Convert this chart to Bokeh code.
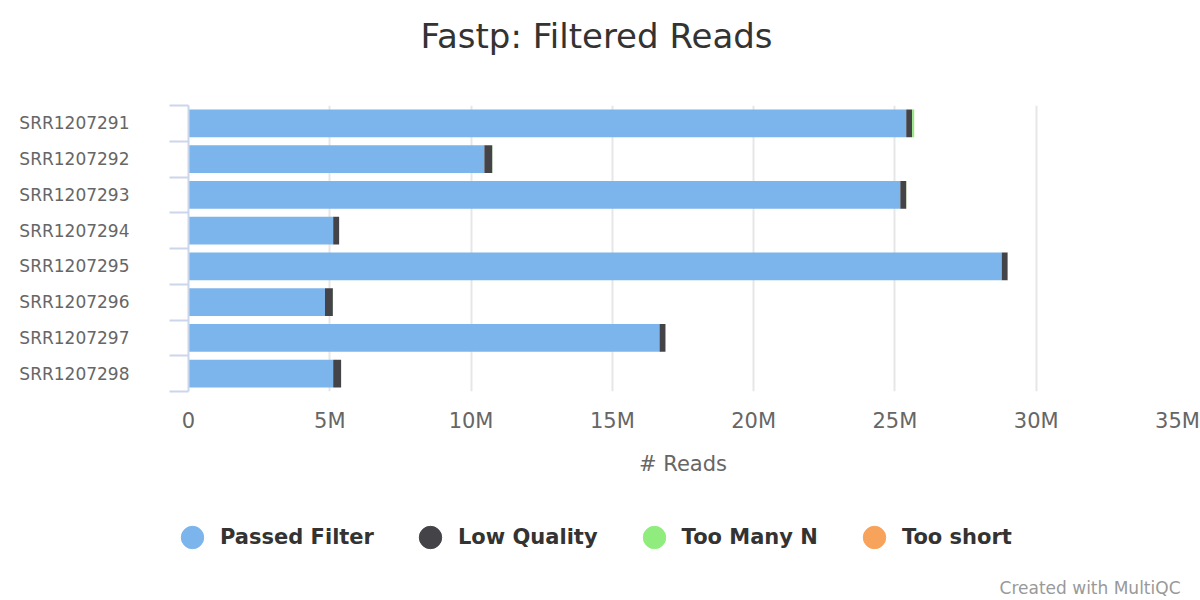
from bokeh.plotting import figure
from bokeh.layouts import column
from bokeh.models import (ColumnDataSource, Range1d, FixedTicker, Legend, LegendItem,
                          Title, Label)
from bokeh.embed import file_html
from bokeh.resources import INLINE

# ---- data ----
samples = ["SRR1207291", "SRR1207292", "SRR1207293", "SRR1207294",
           "SRR1207295", "SRR1207296", "SRR1207297", "SRR1207298"]
passed_filter = [25.40e6, 10.47e6, 25.19e6, 5.12e6, 28.78e6, 4.83e6, 16.67e6, 5.12e6]
low_quality = [0.21e6, 0.28e6, 0.21e6, 0.21e6, 0.21e6, 0.28e6, 0.21e6, 0.28e6]
too_many_n = [0.07e6, 0.005e6, 0.005e6, 0.003e6, 0.006e6, 0.003e6, 0.004e6, 0.003e6]
too_short = [0.002e6, 0.001e6, 0.002e6, 0.001e6, 0.002e6, 0.001e6, 0.001e6, 0.001e6]
series_names = ["Passed Filter", "Low Quality", "Too Many N", "Too short"]
series_keys = ["passed", "low", "many_n", "short"]
series_colors = ["#7cb5ec", "#434348", "#90ed7d", "#f7a35c"]
x_ticks = [0, 5e6, 10e6, 15e6, 20e6, 25e6, 30e6, 35e6]
x_tick_labels = ["0", "5M", "10M", "15M", "20M", "25M", "30M", "35M"]

FONT = "DejaVu Sans"
n = len(samples)
ypos = list(range(n))

source = ColumnDataSource(dict(y=ypos, sample=samples, passed=passed_filter,
                               low=low_quality, many_n=too_many_n, short=too_short))

MAIN_H = 485
p = figure(width=1200, height=MAIN_H, x_range=Range1d(0, x_ticks[-1]),
           y_range=Range1d(n - 0.5, -0.5),
           output_backend="svg", toolbar_location=None,
           min_border_left=188, min_border_right=23,
           min_border_top=105, min_border_bottom=MAIN_H - 391)
p.frame_align = False
p.outline_line_color = None
p.background_fill_color = "white"
p.border_fill_color = "white"

p.hbar_stack(series_keys, y="y", height=0.78, color=series_colors,
             line_width=0, source=source)

# x axis
xa = p.xaxis[0]
xa.ticker = FixedTicker(ticks=x_ticks)
xa.major_label_overrides = {t: l for t, l in zip(x_ticks, x_tick_labels)}
xa.axis_line_color = None
xa.major_tick_line_color = None
xa.minor_tick_line_color = None
xa.major_tick_out = 0
xa.major_label_standoff = 17
xa.major_label_text_font = FONT
xa.major_label_text_font_size = "21px"
xa.major_label_text_color = "#666666"
xa.axis_label = "# Reads"
xa.axis_label_text_font = FONT
xa.axis_label_text_font_size = "21px"
xa.axis_label_text_font_style = "normal"
xa.axis_label_text_color = "#666666"
xa.axis_label_standoff = 16

# y axis
ya = p.yaxis[0]
ya.ticker = FixedTicker(ticks=ypos, minor_ticks=[i - 0.5 for i in range(n + 1)])
ya.major_label_overrides = {i: s for i, s in zip(ypos, samples)}
ya.axis_line_color = "#ccd6eb"
ya.axis_line_width = 2
ya.major_tick_line_color = None
ya.major_tick_out = 0
ya.major_tick_in = 0
ya.minor_tick_line_color = "#ccd6eb"
ya.minor_tick_line_width = 2
ya.minor_tick_out = 19
ya.minor_tick_in = 0
ya.major_label_standoff = 40
ya.major_label_text_font = FONT
ya.major_label_text_font_size = "17px"
ya.major_label_text_color = "#666666"

p.xgrid.ticker = FixedTicker(ticks=x_ticks)
p.xgrid.grid_line_color = "#e6e6e6"
p.xgrid.grid_line_width = 2
p.ygrid.grid_line_color = None

# title (with a spacer between it and the frame)
p.add_layout(Title(text=" ", text_font_size="1px", standoff=47), "above")
p.add_layout(Title(text="Fastp: Filtered Reads", align="left", offset=232,
                   vertical_align="bottom", standoff=0, text_font=FONT,
                   text_font_size="34px", text_font_style="normal",
                   text_color="#333333"), "above")

# ---- legend strip below the chart ----
LEG_H = 600 - MAIN_H
q = figure(width=1200, height=LEG_H, x_range=Range1d(0, 1), y_range=Range1d(0, 1),
           output_backend="svg", toolbar_location=None,
           x_axis_location=None, y_axis_location=None,
           min_border_left=0, min_border_right=0, min_border_top=0, min_border_bottom=0)
q.frame_align = False
q.outline_line_color = None
q.xgrid.grid_line_color = None
q.ygrid.grid_line_color = None

items = []
for name, col in zip(series_names, series_colors):
    r = q.scatter(x=[float("nan")], y=[float("nan")], marker="circle",
                  fill_color=col, line_color=col)
    items.append(LegendItem(label=name, renderers=[r]))
legend = Legend(items=items, orientation="horizontal", location=(164, 35),
                glyph_width=56, glyph_height=56, label_standoff=0, spacing=28,
                padding=0, margin=0, border_line_color=None, background_fill_alpha=0,
                label_text_font=FONT, label_text_font_size="21px",
                label_text_font_style="bold", label_text_color="#333333")
q.add_layout(legend, "center")

q.add_layout(Label(x=1180, y=13, x_units="screen", y_units="screen",
                   text="Created with MultiQC", text_align="right",
                   text_baseline="alphabetic", text_font=FONT,
                   text_font_size="17px", text_color="#999999"))

layout = column(p, q, spacing=0)
open("out.html", "w").write(file_html(layout, INLINE))
